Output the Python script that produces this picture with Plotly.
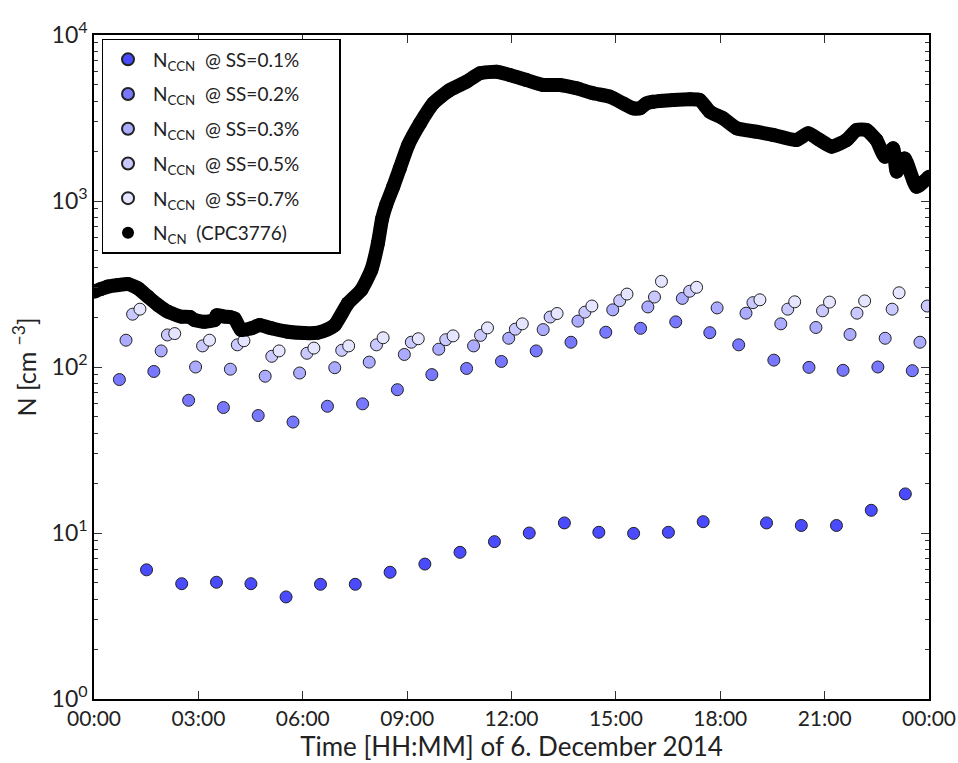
import plotly.graph_objects as go

# ---- data (hours of day, concentrations in cm^-3) ----
t01 = [1.51, 2.52, 3.52, 4.51, 5.52, 6.51, 7.51, 8.51, 9.51, 10.52, 11.51, 12.51, 13.52, 14.51,
       15.51, 16.51, 17.51, 19.33, 20.33, 21.34, 22.34, 23.32]
v01 = [6.0, 4.95, 5.05, 4.95, 4.12, 4.91, 4.91, 5.8, 6.5, 7.65, 8.87, 10.0, 11.5, 10.1,
       9.95, 10.1, 11.7, 11.5, 11.1, 11.1, 13.7, 17.2]

t02 = [0.73, 1.72, 2.72, 3.72, 4.72, 5.72, 6.71, 7.72, 8.72, 9.71, 10.71, 11.71, 12.71, 13.71,
       14.71, 15.71, 16.72, 17.70, 18.53, 19.54, 20.55, 21.53, 22.53, 23.52]
v02 = [84, 94, 63, 57, 51, 46.6, 58, 60, 73, 90, 98, 108, 125, 141,
       162, 171, 187, 161, 136, 110, 99.5, 95.5, 100, 95]

t03 = [0.92, 1.93, 2.92, 3.92, 4.92, 5.91, 6.92, 7.91, 8.92, 9.91, 10.91, 11.92, 12.91, 13.91,
       14.91, 15.92, 16.91, 17.91, 18.74, 19.74, 20.75, 21.73, 22.74, 23.74]
v03 = [145, 125, 100, 97, 88, 92, 99, 107, 119, 128, 134, 149, 168, 189,
       221, 230, 259, 227, 211, 182, 173, 157, 149, 141]

t05 = [1.11, 2.11, 3.12, 4.12, 5.11, 6.12, 7.12, 8.12, 9.12, 10.11, 11.11, 12.11, 13.11, 14.11,
       15.11, 16.11, 17.12, 18.94, 19.94, 20.94, 21.93, 22.94, 23.95]
v05 = [208, 156, 134, 136, 116, 121, 126, 136, 141, 146, 155, 169, 200, 214,
       251, 264, 286, 244, 223, 218, 211, 223, 233]

t07 = [1.32, 2.32, 3.32, 4.31, 5.32, 6.32, 7.32, 8.31, 9.32, 10.32, 11.31, 12.31, 13.31, 14.31,
       15.32, 16.31, 17.32, 19.14, 20.14, 21.14, 22.15, 23.14]
v07 = [223, 159, 145, 144, 125, 130, 134, 150, 148, 154, 172, 182, 210, 233,
       275, 328, 302, 254, 247, 246, 250, 280]

t_cn = [0.00, 0.20, 0.40, 0.70, 0.98, 1.26, 1.55, 1.84, 2.13, 2.51, 2.76, 2.89, 3.18, 3.47,
        3.53, 3.76, 3.91, 4.04, 4.23, 4.52, 4.76, 5.10, 5.57, 6.05, 6.44, 6.70, 6.92, 7.30,
        7.68, 7.97, 8.16, 8.28, 8.40, 8.60, 8.79, 9.03, 9.37, 9.75, 10.23, 10.71, 11.09,
        11.57, 11.95, 12.43, 12.91, 13.39, 13.87, 14.35, 14.83, 15.21, 15.50, 15.69, 15.88,
        16.07, 16.26, 16.65, 17.13, 17.41, 17.70, 18.08, 18.47, 19.04, 19.52, 20.19, 20.53,
        20.86, 21.20, 21.63, 21.92, 22.20, 22.49, 22.73, 22.97, 23.07, 23.30, 23.64, 24.00]
v_cn = [284, 295, 305, 312, 316, 298, 265, 236, 215, 201, 200, 192, 187, 192,
        205, 201, 200, 196, 167, 171, 179, 171, 163, 160, 161, 168, 179, 242,
        291, 384, 556, 780, 950, 1219, 1574, 2173, 2937, 3873, 4667, 5236, 5875,
        6010, 5740, 5355, 5000, 5000, 4774, 4456, 4250, 3873, 3614, 3614, 3873,
        3963, 4000, 4058, 4096, 4058, 3451, 3148, 2741, 2614, 2500, 2330, 2557,
        2330, 2125, 2330, 2678, 2678, 2330, 1849, 2075, 1503, 1806, 1219, 1400]

tick_hours = [0, 3, 6, 9, 12, 15, 18, 21, 24]
tick_labels = ["00:00", "03:00", "06:00", "09:00", "12:00", "15:00", "18:00", "21:00", "00:00"]
y_major = [1, 10, 100, 1000, 10000]
y_labels = ["10<sup>0</sup>", "10<sup>1</sup>", "10<sup>2</sup>", "10<sup>3</sup>", "10<sup>4</sup>"]

ccn_series = [
    ("0.1", t01, v01, "#4a4aff"),
    ("0.2", t02, v02, "#7777ff"),
    ("0.3", t03, v03, "#ababff"),
    ("0.5", t05, v05, "#c9c9ff"),
    ("0.7", t07, v07, "#e5e5ff"),
]

FONT = "Lato"
PAD = "\u00a0" * 7  # right padding inside the legend box
fig = go.Figure()
for ss, t, v, col in ccn_series:
    fig.add_trace(go.Scatter(
        x=t, y=v, mode="markers", legendgroup=ss,
        name=f"N<sub>CCN</sub>  @ SS={ss}%" + PAD,
        marker=dict(size=12, color=col, line=dict(color="#222222", width=1)),
    ))

fig.add_trace(go.Scatter(
    x=t_cn, y=v_cn, mode="lines", showlegend=False, legendgroup="cn",
    line=dict(color="black", width=14, shape="spline", smoothing=0.5),
    hoverinfo="skip",
))
fig.add_trace(go.Scatter(
    x=t_cn, y=v_cn, mode="markers", name="N<sub>CN</sub>  (CPC3776)", legendgroup="cn",
    marker=dict(size=14, color="black"),
))

minor_vals = [m * 10 ** k for k in range(0, 4) for m in range(2, 10)]

fig.update_layout(
    width=958, height=763,
    margin=dict(l=94, r=29, t=35, b=64),
    plot_bgcolor="white", paper_bgcolor="white",
    font=dict(family=FONT, size=22, color="#222222"),
    showlegend=True,
    legend=dict(
        x=0.009, y=0.994, xanchor="left", yanchor="top",
        bordercolor="black", borderwidth=1.5, bgcolor="white",
        font=dict(family=FONT, size=19, color="#222222"),
        itemsizing="constant", tracegroupgap=7, itemwidth=40,
    ),
    xaxis=dict(
        range=[0, 24], tickmode="array", tickvals=tick_hours, ticktext=tick_labels,
        ticks="inside", ticklen=8, tickcolor="#333333", mirror="ticks",
        showline=True, linecolor="black", linewidth=1.5, showgrid=False, zeroline=False,
        tickfont=dict(size=21), automargin=False, ticklabeloverflow="allow",
        title=dict(text="Time [HH:MM] of 6. December 2014", font=dict(size=26), standoff=6),
    ),
    yaxis=dict(
        type="log", range=[0, 4], tickmode="array", tickvals=y_major, ticktext=y_labels,
        ticks="inside", ticklen=8, tickcolor="#333333", mirror="ticks",
        showline=True, linecolor="black", linewidth=1.5, showgrid=False, zeroline=False,
        tickfont=dict(size=23), automargin=False, ticklabeloverflow="allow",
        minor=dict(tickmode="array", tickvals=minor_vals, ticks="inside", ticklen=4,
                   tickcolor="#333333"),
        title=dict(text="N [cm <sup>−3</sup>]", font=dict(size=25), standoff=8),
    ),
)

fig.write_html("out.html")
